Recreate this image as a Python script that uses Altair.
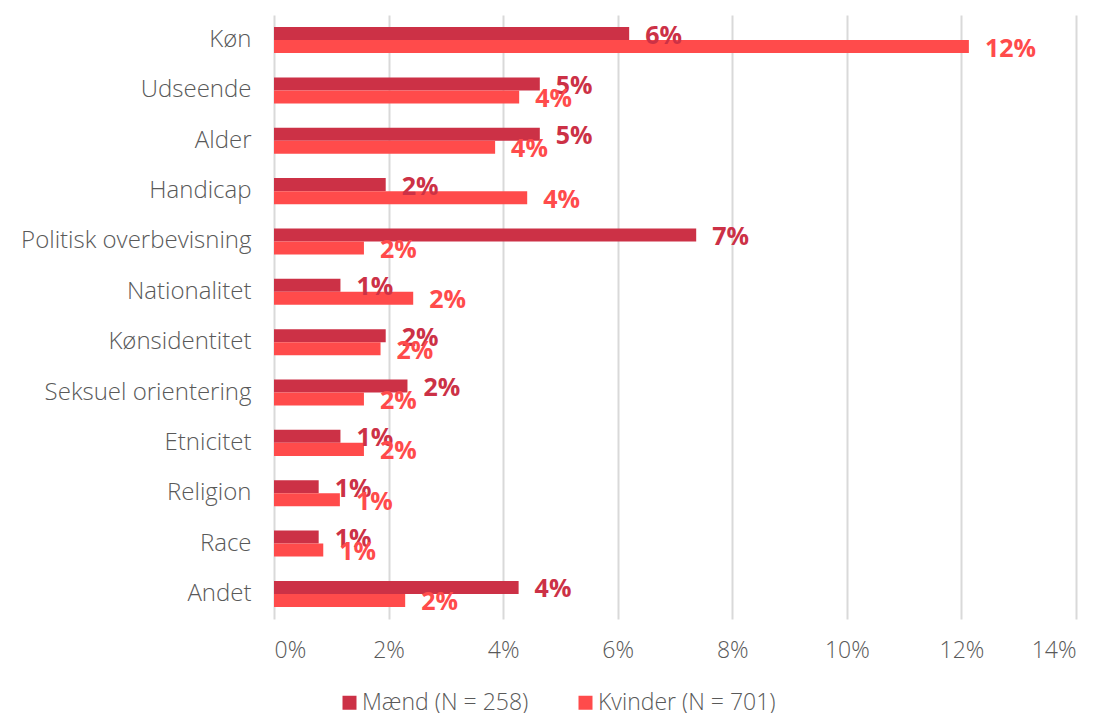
import altair as alt
import pandas as pd

categories = ["Køn", "Udseende", "Alder", "Handicap", "Politisk overbevisning",
              "Nationalitet", "Kønsidentitet", "Seksuel orientering", "Etnicitet",
              "Religion", "Race", "Andet"]
maend = [0.062, 0.0464, 0.0464, 0.0195, 0.0737, 0.0116, 0.0195, 0.0233, 0.0116, 0.0078, 0.0078, 0.0427]
kvinder = [0.1213, 0.0428, 0.0386, 0.0442, 0.0157, 0.0243, 0.0186, 0.0157, 0.0157, 0.0115, 0.0086, 0.0229]
series = ["Mænd (N = 258)", "Kvinder (N = 701)"]
colors = ["#CC3146", "#FF4B4B"]

rows = []
for c, m, k in zip(categories, maend, kvinder):
    rows.append({"cat": c, "serie": series[0], "val": m})
    rows.append({"cat": c, "serie": series[1], "val": k})
df = pd.DataFrame(rows)

FONT = "Open Sans"
FS = 23

y = alt.Y("cat:N", sort=categories, title=None,
          scale=alt.Scale(paddingInner=0.483, paddingOuter=0.24),
          axis=alt.Axis(domain=False, ticks=False, labelFontSize=24, labelColor="#595959",
                        labelFont=FONT, labelFontWeight=300, labelPadding=23, labelLimit=400))
x = alt.X("val:Q", title=None,
          scale=alt.Scale(domain=[0, 0.14]),
          axis=alt.Axis(format=".0%", values=[0, 0.02, 0.04, 0.06, 0.08, 0.10, 0.12, 0.14],
                        domain=False, ticks=False, grid=True, gridColor="#D9D9D9", gridWidth=2,
                        labelFontSize=FS, labelColor="#595959", labelFont=FONT,
                        labelFontWeight=300, labelPadding=20))
yoff = alt.YOffset("serie:N", sort=series)
color = alt.Color("serie:N", sort=series,
                  scale=alt.Scale(domain=series, range=colors),
                  legend=alt.Legend(title=None, orient="none", direction="horizontal",
                                    legendX=64, legendY=676, labelLimit=400,
                                    symbolType="square", symbolSize=196, labelFontSize=FS,
                                    labelColor="#595959", labelFont=FONT, labelFontWeight=300,
                                    columnPadding=45, symbolStrokeWidth=0, labelOffset=1))

bars = alt.Chart(df).mark_bar().encode(y=y, x=x, yOffset=yoff, color=color)
labels = alt.Chart(df).mark_text(align="left", baseline="middle", dx=16, dy=2,
                                  fontSize=25, fontWeight="bold", font=FONT).encode(
    y=y, x=x, yOffset=yoff,
    text=alt.Text("val:Q", format=".0%"),
    color=alt.Color("serie:N", sort=series, scale=alt.Scale(domain=series, range=colors), legend=None),
)

chart = alt.layer(bars, labels).properties(
    width=802, height=604,
    padding={"top": 7, "left": 12, "right": 5, "bottom": 5},
).configure_view(stroke=None)

chart.save("out.html", embed_options={"renderer": "svg", "actions": False})
